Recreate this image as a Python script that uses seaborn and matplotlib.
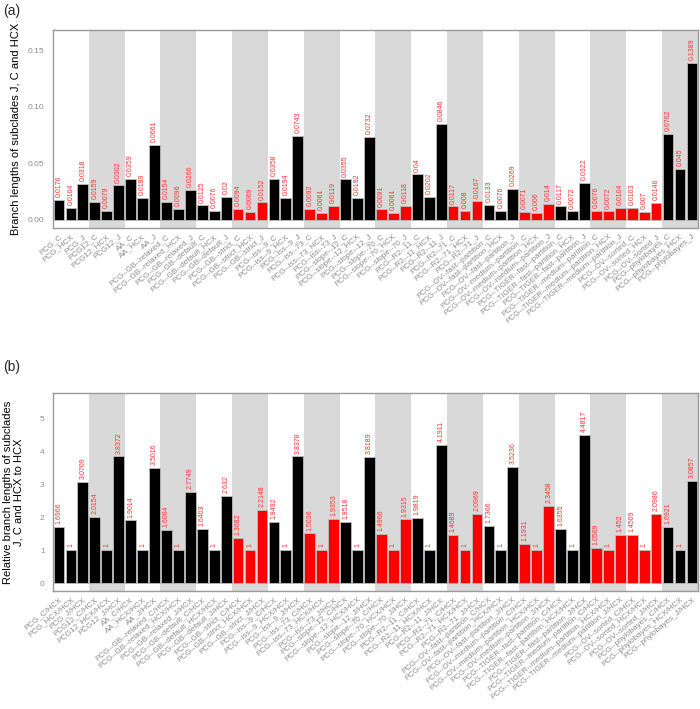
import matplotlib
matplotlib.use("Agg")
from matplotlib import pyplot as plt
import pandas as pd
import seaborn as sns

# Groups (each with subclades C, HCX, J) and which of them are shown in red
groups = ["PCG", "PCG12", "AA", "PCG--GB--relaxed", "PCG--GB--default",
          "PCG--GB--strict", "PCG--iss--9", "PCG--iss--73", "PCG--slope--12",
          "PCG--slope--70", "PCG--R2--11", "PCG--R2--71",
          "PCG--OV--fast--partition", "PCG--OV--medium--partition",
          "PCG--TIGER--fast--partition", "PCG--TIGER--medium--partition",
          "PCG--OV--sorted", "PCG--phylobayes"]
red_groups = ["PCG--GB--strict", "PCG--iss--73", "PCG--slope--70", "PCG--R2--71",
              "PCG--OV--medium--partition", "PCG--TIGER--medium--partition",
              "PCG--OV--sorted"]

# (a) branch lengths
len_C = [0.0176, 0.0159, 0.0359, 0.0154, 0.0125, 0.0094, 0.0358, 0.0092, 0.0355,
         0.0091, 0.04, 0.0117, 0.0133, 0.0071, 0.0117, 0.0076, 0.0103, 0.0762]
len_HCX = [0.0104, 0.0079, 0.0189, 0.0096, 0.0076, 0.0069, 0.0194, 0.0061, 0.0192,
           0.0061, 0.0202, 0.008, 0.0076, 0.006, 0.0072, 0.0072, 0.007, 0.045]
len_J = [0.0318, 0.0302, 0.0661, 0.0266, 0.02, 0.0152, 0.0743, 0.0119, 0.0732,
         0.0118, 0.0846, 0.0167, 0.0269, 0.014, 0.0322, 0.0104, 0.0146, 0.1389]

# (b) relative to HCX
rel_C = [1.6966, 2.0154, 1.9014, 1.6064, 1.6403, 1.3682, 1.8492, 1.5036, 1.8518,
         1.4966, 1.9819, 1.4689, 1.7366, 1.1931, 1.6355, 1.0569, 1.4509, 1.6921]
rel_HCX = [1] * 18
rel_J = [3.0709, 3.8372, 3.5016, 2.7749, 2.632, 2.2148, 3.8378, 1.9353, 3.8189,
         1.9315, 4.1911, 2.0969, 3.5236, 2.3458, 4.4817, 1.452, 2.0986, 3.0857]

GREY_TXT = "#8c8c8c"


def make_df(c_vals, h_vals, j_vals, suffixes):
    rows = []
    for g, c, h, j in zip(groups, c_vals, h_vals, j_vals):
        for s, v in zip(suffixes, (c, h, j)):
            rows.append({"label": g + s, "value": v,
                         "hl": "red" if g in red_groups else "black"})
    return pd.DataFrame(rows)


def draw_panel(ax, df, ylabel, ylim, yticks, yticklabels, label_x):
    # alternating grey bands for every second group
    for i in range(len(groups)):
        if i % 2 == 1:
            ax.axvspan(3 * i - 0.5, 3 * i + 2.5, color="#d9d9d9", lw=0, zorder=0)
    sns.barplot(data=df, x="label", y="value", hue="hl",
                palette={"black": "black", "red": "#ff0000"}, dodge=False,
                saturation=1, width=0.9, edgecolor="#bdbdbd", linewidth=0.6,
                legend=False, ax=ax, zorder=2)
    for i, v in enumerate(df["value"]):
        ax.annotate(f"{v:g}", (i, v), xytext=(0, 2), textcoords="offset points",
                    rotation=90, ha="center", va="bottom", color="#ff3030",
                    fontsize=5)
    ax.set_xlim(-0.5, len(df) - 0.5)
    ax.set_ylim(*ylim)
    ax.set_yticks(yticks)
    ax.set_yticklabels(yticklabels)
    ax.set_xlabel("")
    ax.set_ylabel(ylabel, fontsize=8, color="black", linespacing=1.1)
    ax.yaxis.set_label_coords(label_x, 0.5)
    ax.tick_params(axis="x", labelrotation=40, labelsize=5.8, colors=GREY_TXT,
                   length=2.5, width=0.5, pad=1)
    ax.tick_params(axis="y", labelsize=6, colors=GREY_TXT, length=2.5, width=0.5)
    for lab in ax.get_xticklabels():
        lab.set_ha("right")
        lab.set_rotation_mode("anchor")
    for sp in ax.spines.values():
        sp.set_visible(True)
        sp.set_color("#999999")
        sp.set_linewidth(1.0)
    ax.grid(False)


sns.set_style("white")
plt.rcParams["font.family"] = ["Liberation Sans", "DejaVu Sans"]

fig = plt.figure(figsize=(7, 7.09), dpi=100)
ax_a = fig.add_axes([0.0757, 0.6784, 0.9213, 0.2793])
ax_b = fig.add_axes([0.0757, 0.1664, 0.9213, 0.2793])

df_a = make_df(len_C, len_HCX, len_J, ["_C", "_HCX", "_J"])
df_b = make_df(rel_C, rel_HCX, rel_J, ["_C/HCX", "_HCX/HCX", "_J/HCX"])

draw_panel(ax_a, df_a, "Branch lengths of subclades J, C and HCX",
           (-0.0075, 0.168), [0, 0.05, 0.10, 0.15],
           ["0.00", "0.05", "0.10", "0.15"], -0.05)
draw_panel(ax_b, df_b, "Relative branch lengths of subclades\nJ, C and HCX to HCX",
           (-0.24, 5.76), [0, 1, 2, 3, 4, 5],
           ["0", "1", "2", "3", "4", "5"], -0.045)

fig.text(0.005, 0.995, "(a)", fontsize=10, va="top", ha="left")
fig.text(0.005, 1 - 360 / 709, "(b)", fontsize=10, va="top", ha="left")

fig.savefig("out.png", dpi=100)
